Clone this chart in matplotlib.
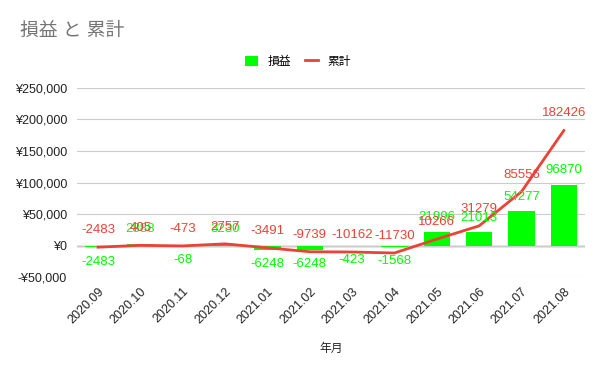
import matplotlib
matplotlib.use('Agg')
import matplotlib.pyplot as plt
from matplotlib.ticker import FuncFormatter

plt.rcParams['font.family'] = ['Liberation Sans', 'Noto Sans CJK JP']

months = ['2020.09', '2020.10', '2020.11', '2020.12', '2021.01', '2021.02',
          '2021.03', '2021.04', '2021.05', '2021.06', '2021.07', '2021.08']
profit = [-2483, 2888, -68, 3230, -6248, -6248, -423, -1568, 21996, 21013, 54277, 96870]
total = [-2483, 405, -473, 2757, -3491, -9739, -10162, -11730, 10266, 31279, 85556, 182426]

green = '#00ff00'
red = '#ea4335'

fig = plt.figure(figsize=(6, 3.71), dpi=100)
ax = fig.add_axes([0.128, 0.253, 0.847, 0.51])

x = range(len(months))
bars = ax.bar(x, profit, width=0.62, color=green, label='損益', zorder=2)
line, = ax.plot(x, total, color=red, lw=2, label='累計', zorder=3)

for i, v in enumerate(profit):
    off = 6 if v >= 0 else -6
    ax.annotate(str(v), (i, v), xytext=(0, off), textcoords='offset points',
                ha='center', va='bottom' if v >= 0 else 'top',
                color=green, fontsize=9.5, zorder=4)
for i, v in enumerate(total):
    ax.annotate(str(v), (i, v), xytext=(0, 8), textcoords='offset points',
                ha='center', va='bottom', color=red, fontsize=9.5, zorder=5)

ax.set_ylim(-50000, 250000)
ax.set_xlim(-0.5, len(months) - 0.5)
ax.set_yticks(range(-50000, 250001, 50000))
ax.yaxis.set_major_formatter(FuncFormatter(
    lambda v, p: ('-' if v < 0 else '') + '¥{:,.0f}'.format(abs(v))))
ax.set_xticks(list(x))
ax.set_xticklabels(months, rotation=45, ha='right', rotation_mode='anchor')
ax.tick_params(axis='both', length=0, labelsize=9, colors='#222222')
ax.tick_params(axis='x', pad=6)
ax.tick_params(axis='y', pad=7)
ax.grid(axis='y', color='#cccccc', lw=0.8, zorder=0)
ax.axhline(0, color='#333333', lw=0.9, zorder=1)
for s in ax.spines.values():
    s.set_visible(False)

ax.set_xlabel('年月', fontsize=8.5, color='#222222', labelpad=12)

fig.text(0.033, 0.915, '損益 と 累計', fontsize=13.5, color='#757575', va='center')
fig.legend([bars, line], ['損益', '累計'], loc='center', bbox_to_anchor=(0.497, 0.833),
           ncol=2, frameon=False, fontsize=8.5, handlelength=1.1, handleheight=1.0,
           handletextpad=0.8, columnspacing=1.2)

fig.savefig('out.png', dpi=100)
